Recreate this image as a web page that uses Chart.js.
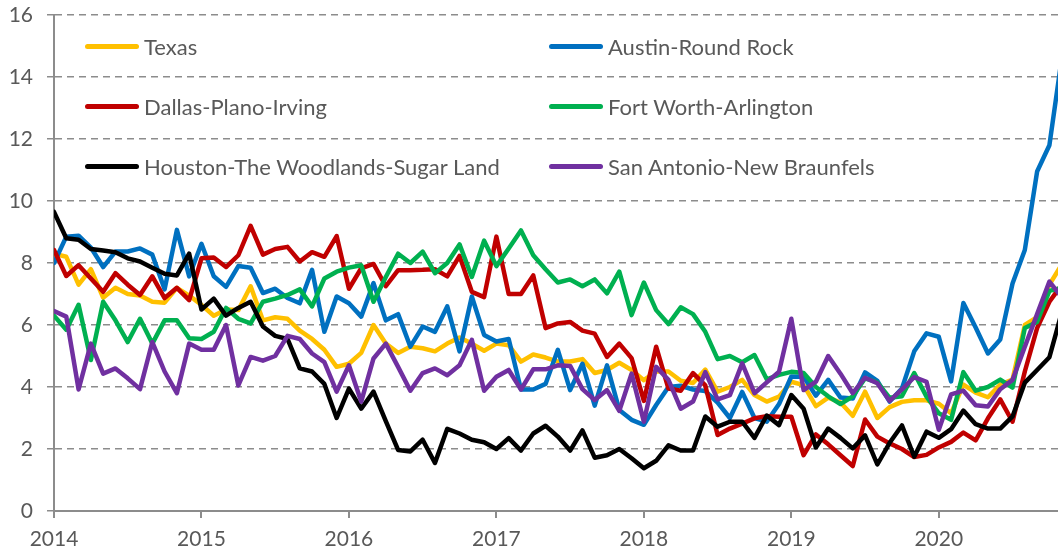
<!DOCTYPE html>
<html>
<head>
<meta charset="utf-8">
<script src="https://cdn.jsdelivr.net/npm/chart.js@4/dist/chart.umd.min.js"></script>
<style>
  body { margin: 0; background: #fff; }
  #cadre { position: relative; width: 1058px; height: 557px; }
  #legende { position: absolute; left: 0; top: 0; font-family: Lato, sans-serif; font-size: 22px; color: #595959; }
  .item { position: absolute; height: 30px; line-height: 30px; white-space: nowrap; }
  .trait { position: absolute; left: 0; top: 12px; width: 54px; height: 5px; border-radius: 3px; }
  .nom { position: absolute; left: 59px; top: 0; }
</style>
</head>
<body>
<div id="cadre">
  <canvas id="graphe" width="1058" height="557"></canvas>
  <div id="legende"></div>
</div>
<script>
// taux mensuels, janv. 2014 -> nov. 2020

const annees = ['2014', '2015', '2016', '2017', '2018', '2019', '2020'];

const noms = ['Texas', 'Austin-Round Rock', 'Dallas-Plano-Irving', 'Fort Worth-Arlington',
  'Houston-The Woodlands-Sugar Land', 'San Antonio-New Braunfels'];
const couleurs = ['#FFC000', '#0070C0', '#C00000', '#00B050', '#000000', '#7030A0'];

const texas = [8.3, 8.2, 7.3, 7.8, 6.88, 7.2, 7.0, 6.95, 6.75, 6.72, 7.2, 6.95,
  6.65, 6.3, 6.5, 6.48, 7.25, 6.15, 6.25, 6.2, 5.82, 5.55, 5.2, 4.65,
  4.75, 5.1, 6.0, 5.4, 5.1, 5.3, 5.25, 5.15, 5.4, 5.6, 5.4, 5.17,
  5.4, 5.35, 4.82, 5.05, 4.95, 4.82, 4.82, 4.9, 4.45, 4.55, 4.78, 4.55,
  4.22, 4.5, 4.5, 4.2, 4.13, 4.56, 3.85, 4.0, 4.23, 3.74, 3.53, 3.69,
  4.17, 4.06, 3.38, 3.66, 3.5, 3.07, 3.85, 3.0, 3.35, 3.52, 3.57, 3.57,
  3.46, 3.15, 4.08, 3.82, 3.67, 4.08, 4.24, 6.0, 6.25, 7.3, 7.95];

const austin = [8.0, 8.85, 8.88, 8.5, 7.87, 8.37, 8.37, 8.47, 8.27, 7.15, 9.07, 7.57,
  8.62, 7.57, 7.23, 7.9, 7.85, 7.03, 7.17, 6.87, 6.7, 7.78, 5.78, 6.92,
  6.7, 6.27, 7.35, 6.15, 6.35, 5.3, 5.95, 5.78, 6.6, 5.15, 6.92, 5.68,
  5.47, 5.55, 3.92, 3.92, 4.1, 5.2, 3.9, 4.75, 3.4, 4.7, 3.26, 2.94,
  2.78, 3.42, 4.0, 4.04, 3.92, 3.87, 3.5, 3.0, 3.84, 3.0, 2.88, 3.45,
  4.34, 4.33, 3.72, 4.23, 3.66, 3.63, 4.47, 4.2, 3.53, 3.95, 5.15, 5.73,
  5.62, 4.18, 6.71, 5.92, 5.08, 5.53, 7.34, 8.42, 10.95, 11.8, 14.6];

const dallas = [8.42, 7.58, 7.93, 7.5, 7.07, 7.67, 7.3, 6.97, 7.57, 6.87, 7.2, 6.8,
  8.15, 8.18, 7.87, 8.25, 9.2, 8.27, 8.45, 8.52, 8.05, 8.35, 8.2, 8.87,
  7.17, 7.83, 7.97, 7.25, 7.77, 7.77, 7.78, 7.8, 7.57, 8.23, 7.07, 6.9,
  8.85, 7.0, 7.0, 7.6, 5.9, 6.05, 6.1, 5.82, 5.72, 4.97, 5.4, 4.93,
  3.55, 5.3, 3.95, 3.88, 4.45, 4.05, 2.45, 2.66, 2.82, 2.99, 3.06, 3.04,
  3.04, 1.8, 2.47, 2.15, 1.8, 1.45, 2.95, 2.4, 2.18, 2.0, 1.74, 1.81,
  2.05, 2.23, 2.53, 2.28, 2.99, 3.6, 2.88, 4.5, 5.9, 6.75, 7.3];

const fortWorth = [6.3, 5.85, 6.65, 4.87, 6.75, 6.15, 5.45, 6.2, 5.4, 6.15, 6.15, 5.57,
  5.55, 5.78, 6.55, 6.2, 6.05, 6.75, 6.85, 6.97, 7.15, 6.6, 7.5, 7.72,
  7.85, 7.93, 6.75, 7.55, 8.3, 8.0, 8.37, 7.67, 8.0, 8.6, 7.55, 8.72,
  7.9, 8.47, 9.05, 8.25, 7.8, 7.37, 7.47, 7.25, 7.47, 7.02, 7.72, 6.32,
  7.37, 6.48, 6.03, 6.57, 6.35, 5.78, 4.9, 5.0, 4.8, 5.03, 4.25, 4.39,
  4.49, 4.45, 4.0, 3.7, 3.45, 3.7, 4.28, 4.15, 3.65, 3.7, 4.45, 3.69,
  3.15, 2.94, 4.48, 3.88, 4.0, 4.24, 3.98, 5.9, 6.1, 7.1, 7.2];

const houston = [9.65, 8.8, 8.75, 8.45, 8.4, 8.35, 8.15, 8.05, 7.85, 7.65, 7.6, 8.3,
  6.5, 6.85, 6.3, 6.55, 6.75, 5.95, 5.65, 5.55, 4.6, 4.5, 4.1, 3.0,
  3.95, 3.3, 3.85, 2.9, 1.97, 1.92, 2.3, 1.55, 2.65, 2.5, 2.3, 2.22,
  2.0, 2.35, 1.95, 2.5, 2.75, 2.4, 1.95, 2.6, 1.72, 1.8, 2.0, 1.7,
  1.38, 1.62, 2.12, 1.95, 1.95, 3.05, 2.72, 2.88, 2.88, 2.36, 3.08, 2.77,
  3.74, 3.3, 2.05, 2.66, 2.36, 2.02, 2.44, 1.5, 2.2, 2.76, 1.75, 2.56,
  2.36, 2.64, 3.24, 2.8, 2.66, 2.66, 3.05, 4.14, 4.55, 4.96, 6.4];

const sanAntonio = [6.45, 6.27, 3.92, 5.4, 4.43, 4.6, 4.28, 3.93, 5.45, 4.5, 3.8, 5.4,
  5.2, 5.2, 6.0, 4.05, 4.97, 4.85, 5.0, 5.65, 5.55, 5.08, 4.8, 3.85,
  4.7, 3.53, 4.92, 5.4, 4.65, 3.88, 4.45, 4.6, 4.38, 4.7, 5.52, 3.88,
  4.33, 4.55, 3.92, 4.57, 4.57, 4.7, 4.68, 3.93, 3.58, 3.9, 3.23, 4.43,
  2.88, 4.65, 4.23, 3.3, 3.53, 4.48, 3.6, 3.74, 4.76, 3.8, 4.15, 4.49,
  6.2, 3.9, 4.17, 5.0, 4.43, 3.8, 4.3, 4.12, 3.55, 3.92, 4.32, 4.17,
  2.62, 3.76, 3.88, 3.41, 3.37, 3.93, 4.23, 5.3, 6.35, 7.4, 6.9];

const series = [texas, austin, dallas, fortWorth, houston, sanAntonio];

// position du bord droit (en mois depuis janv. 2014)
const finAxe = 81.7;

const gris = '#8c8c8c';
const police = { family: 'Lato', size: 21 };

function points(valeurs) {
  return valeurs.map((v, i) => ({ x: i, y: v }));
}

let datasets = [];
for (let i = 0; i < series.length; i++) {
  datasets.push({
    label: noms[i],
    data: points(series[i]),
    borderColor: couleurs[i],
    borderWidth: 4.5,
    borderJoinStyle: 'round',
    borderCapStyle: 'round',
    pointRadius: 0,
    tension: 0,
    order: series.length - i   // la derniere serie passe au dessus
  });
}

const ctx = document.getElementById('graphe');

const chart = new Chart(ctx, {
  type: 'line',
  data: { datasets: datasets },
  options: {
    responsive: false,
    animation: false,
    layout: { padding: { top: 15, right: 0, left: 0, bottom: 0 } },
    plugins: { legend: { display: false }, tooltip: { enabled: false } },
    scales: {
      x: {
        type: 'linear',
        min: 0,
        max: finAxe,
        afterFit: s => { s.height = 46; s.paddingLeft = 0; s.paddingRight = 0; },
        afterBuildTicks: s => { s.ticks = annees.map((a, k) => ({ value: k * 12 })); },
        ticks: {
          color: '#595959',
          font: police,
          padding: 9,
          maxRotation: 0,
          autoSkip: false,
          callback: (v, idx) => annees[idx]
        },
        grid: { drawOnChartArea: false, drawTicks: true, tickLength: 7, color: gris, lineWidth: 2 },
        border: { color: gris, width: 2 }
      },
      y: {
        min: 0,
        max: 16,
        afterFit: s => { s.width = 54; s.paddingTop = 0; s.paddingBottom = 0; },
        ticks: { stepSize: 2, color: '#595959', font: police, padding: 14 },
        grid: { color: gris, lineWidth: 1.5, tickLength: 7, tickBorderDash: [7, 5] },
        border: { color: gris, width: 2, dash: [7, 5] }
      }
    }
  }
});

// legende en deux colonnes dans la zone du graphe
const colX = [85, 549];
const ligneY = [47, 107, 167];
const legende = document.getElementById('legende');
for (let i = 0; i < noms.length; i++) {
  let item = document.createElement('div');
  item.className = 'item';
  item.style.left = colX[i % 2] + 'px';
  item.style.top = (ligneY[Math.floor(i / 2)] - 15) + 'px';
  item.innerHTML = '<div class="trait" style="background:' + couleurs[i] + '"></div>' +
    '<span class="nom">' + noms[i] + '</span>';
  legende.appendChild(item);
}
</script>
</body>
</html>
